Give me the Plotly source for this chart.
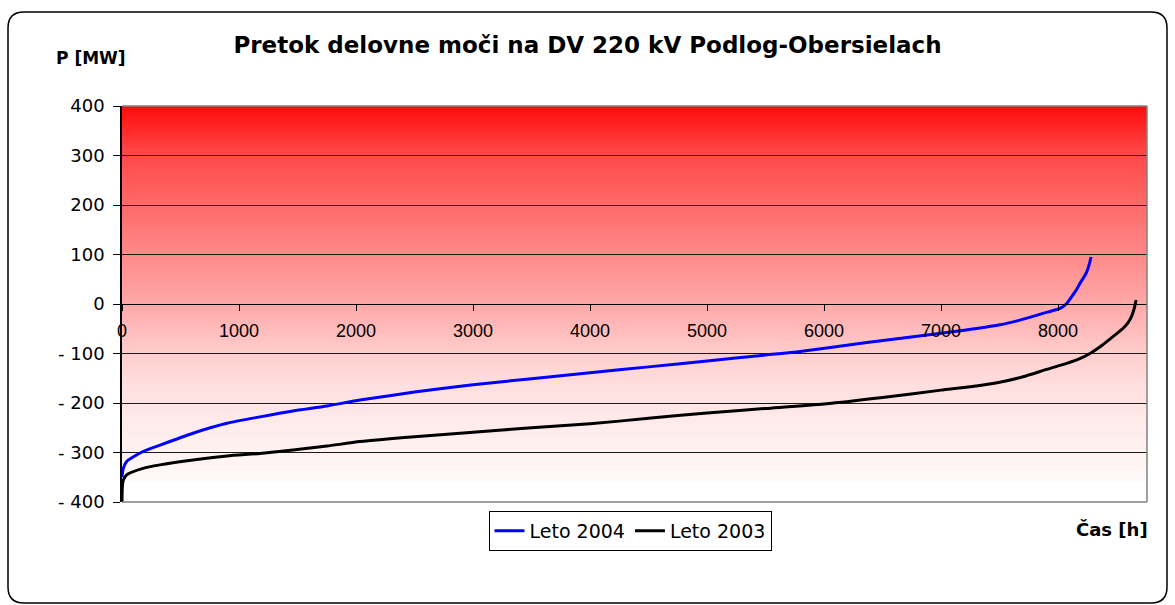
import numpy as np
import plotly.graph_objects as go

# Load duration curves of active power flow (hours sorted by power)
hours_2004 = [0, 11, 40, 180, 325, 607, 897, 1179, 1462, 1752, 2034, 2500, 3000, 3500,
              4000, 4500, 5000, 5500, 5795, 6365, 6932, 7200, 7504, 7650, 7786, 7900,
              8017, 8074, 8117, 8155, 8188, 8220, 8245, 8265, 8282]
mw_2004 = [-350, -332, -318, -298, -285, -261, -241, -228, -216, -206, -194, -178, -163,
           -151, -139, -127, -115, -103, -96, -78, -61, -53, -42, -34, -25, -17,
           -9, 1, 15, 28, 42, 54, 65, 79, 95]

hours_2003 = [0, 3, 11, 40, 180, 325, 607, 897, 1179, 1462, 1752, 2034, 2500, 3000, 3500,
              4000, 4500, 5000, 5500, 6000, 6500, 7000, 7250, 7500, 7700, 7903, 8074,
              8180, 8273, 8350, 8416, 8490, 8556, 8600, 8630, 8652, 8667]
mw_2003 = [-400, -370, -356, -345, -332, -325, -315, -307, -302, -295, -287, -278, -268,
           -259, -250, -242, -231, -220, -211, -202, -189, -174, -167, -158, -147, -132,
           -120, -111, -100, -88, -76, -62, -49, -37, -24, -8, 8]

series_names = ["Leto 2004", "Leto 2003"]
x_ticks = [0, 1000, 2000, 3000, 4000, 5000, 6000, 7000, 8000]
y_ticks = [400, 300, 200, 100, 0, -100, -200, -300, -400]
y_ticklabels = ["400", "300", "200", "100", "0", "- 100", "- 200", "- 300", "- 400"]

title_text = "Pretok delovne moči na DV 220 kV Podlog-Obersielach"
y_title = "P [MW]"
x_title = "Čas [h]"

W, H = 1175, 605
L, R, T, B = 122, 28, 106, 103
PW, PH = W - L - R, H - T - B


def px_to_paper(px, py):
    return (px - L) / PW, (H - B - py) / PH


fig = go.Figure()
fig.add_trace(go.Scatter(x=hours_2004, y=mw_2004, mode="lines", name=series_names[0],
                         line=dict(color="#0000FF", width=3, shape="spline", smoothing=0.6)))
fig.add_trace(go.Scatter(x=hours_2003, y=mw_2003, mode="lines", name=series_names[1],
                         line=dict(color="#000000", width=3, shape="spline", smoothing=0.6)))

shapes = []
# red-to-white vertical gradient behind the plot (overlapping bands avoid seams)
stop_v = [-360, -335, -250, -160, -100, 0, 130, 310, 400]
stop_c = [250, 246, 236, 222, 205, 168, 128, 70, 10]
step = 4
for v0 in range(-360, 400, step):
    c = int(round(np.interp(v0 + step / 2, stop_v, stop_c)))
    shapes.append(dict(type="rect", xref="x", yref="y", x0=0, x1=8760, y0=v0,
                       y1=min(v0 + 2 * step, 400),
                       fillcolor=f"rgb(255,{c},{c})", line=dict(width=0), layer="below"))

# plot-area border (top, right, bottom) in grey
for (a, b) in [((0, 1), (1, 1)), ((1, 1), (1, 0)), ((0, 0), (1, 0))]:
    shapes.append(dict(type="line", xref="paper", yref="paper", x0=a[0], y0=a[1],
                       x1=b[0], y1=b[1], line=dict(color="#808080", width=1.5),
                       layer="above"))

# rounded outer frame of the chart
fx0, fy0 = px_to_paper(8, 603)
fx1, fy1 = px_to_paper(1167, 12)
rx, ry = 16 / PW, 16 / PH
path = (f"M {fx0 + rx},{fy1} L {fx1 - rx},{fy1} Q {fx1},{fy1} {fx1},{fy1 - ry} "
        f"L {fx1},{fy0 + ry} Q {fx1},{fy0} {fx1 - rx},{fy0} "
        f"L {fx0 + rx},{fy0} Q {fx0},{fy0} {fx0},{fy0 + ry} "
        f"L {fx0},{fy1 - ry} Q {fx0},{fy1} {fx0 + rx},{fy1} Z")
shapes.append(dict(type="path", xref="paper", yref="paper", path=path,
                   line=dict(color="#000000", width=1.5), layer="above"))

ax_p, ay_p = px_to_paper(91, 58)
bx_p, by_p = px_to_paper(1112, 529)
lx_p, ly_p = px_to_paper(630, 511)

fig.update_layout(
    width=W, height=H,
    margin=dict(l=L, r=R, t=T, b=B),
    paper_bgcolor="white", plot_bgcolor="white",
    title=dict(text=title_text, xref="container", yref="container", x=0.5,
               xanchor="center", y=1 - 45 / H, yanchor="middle",
               font=dict(family="DejaVu Sans", size=23, color="black", weight="bold")),
    shapes=shapes,
    showlegend=True,
    legend=dict(orientation="h", x=lx_p, xanchor="center", y=ly_p, yanchor="top",
                bgcolor="white", bordercolor="#000000", borderwidth=1,
                font=dict(family="DejaVu Sans", size=19, color="black"),
                itemwidth=30, tracegroupgap=0),
    annotations=[
        dict(text=y_title, xref="paper", yref="paper", x=ax_p, y=ay_p, showarrow=False,
             xanchor="center", yanchor="middle",
             font=dict(family="DejaVu Sans", size=17, color="black", weight="bold")),
        dict(text=x_title, xref="paper", yref="paper", x=bx_p, y=by_p, showarrow=False,
             xanchor="center", yanchor="middle",
             font=dict(family="DejaVu Sans", size=18, color="black", weight="bold")),
    ],
    xaxis=dict(range=[0, 8760], anchor="free", position=0.5, tickmode="array",
               tickvals=x_ticks, ticktext=[str(t) for t in x_ticks],
               showgrid=False, zeroline=False, showline=True, linecolor="black",
               linewidth=1, ticks="outside", ticklen=6, tickcolor="black",
               tickfont=dict(family="Liberation Sans", size=18, color="black"),
               ticklabelstandoff=4),
    yaxis=dict(range=[-400, 400], tickmode="array", tickvals=y_ticks,
               ticktext=y_ticklabels, showgrid=True, gridcolor="#1a1a1a", gridwidth=1,
               zeroline=False, showline=True, linecolor="black", linewidth=1.5,
               ticks="outside", ticklen=7, tickcolor="black",
               tickfont=dict(family="DejaVu Sans", size=18, color="black"),
               ticklabelstandoff=5),
)

fig.write_html("out.html")
